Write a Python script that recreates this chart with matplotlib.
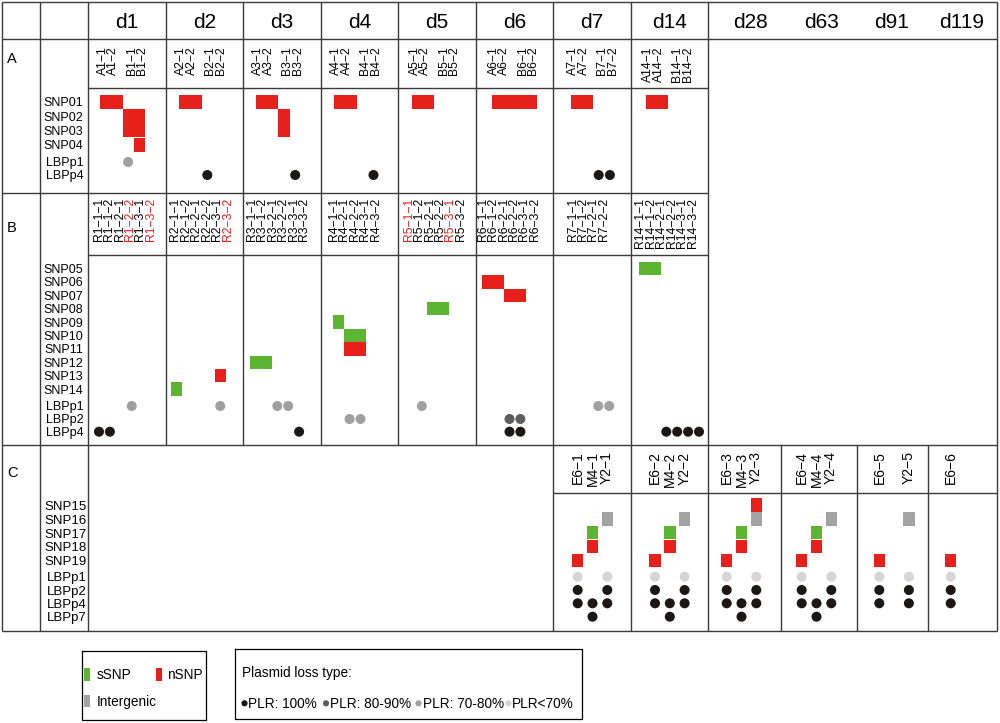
import matplotlib
matplotlib.use('Agg')
import matplotlib.pyplot as plt

plt.rcParams['font.family'] = ['Liberation Sans', 'DejaVu Sans']

# ---------------- data ----------------
DAYS = ['d1', 'd2', 'd3', 'd4', 'd5', 'd6', 'd7', 'd14']
LATE_DAYS = ['d28', 'd63', 'd91', 'd119']

# section A
A_ROWS = ['SNP01', 'SNP02', 'SNP03', 'SNP04', 'LBPp1', 'LBPp4']
A_SAMPLES = [
    ['A1-1', 'A1-2', 'B1-1', 'B1-2'],
    ['A2-1', 'A2-2', 'B2-1', 'B2-2'],
    ['A3-1', 'A3-2', 'B3-1', 'B3-2'],
    ['A4-1', 'A4-2', 'B4-1', 'B4-2'],
    ['A5-1', 'A5-2', 'B5-1', 'B5-2'],
    ['A6-1', 'A6-2', 'B6-1', 'B6-2'],
    ['A7-1', 'A7-2', 'B7-1', 'B7-2'],
    ['A14-1', 'A14-2', 'B14-1', 'B14-2'],
]
# (row, sample, type)  s = sSNP, n = nSNP, i = intergenic
A_SNP = [
    ('SNP01', 'A1-1', 'n'), ('SNP01', 'A1-2', 'n'),
    ('SNP02', 'B1-1', 'n'), ('SNP02', 'B1-2', 'n'),
    ('SNP03', 'B1-1', 'n'), ('SNP03', 'B1-2', 'n'),
    ('SNP04', 'B1-2', 'n'),
    ('SNP01', 'A2-1', 'n'), ('SNP01', 'A2-2', 'n'),
    ('SNP01', 'A3-1', 'n'), ('SNP01', 'A3-2', 'n'),
    ('SNP02', 'B3-1', 'n'), ('SNP03', 'B3-1', 'n'),
    ('SNP01', 'A4-1', 'n'), ('SNP01', 'A4-2', 'n'),
    ('SNP01', 'A5-1', 'n'), ('SNP01', 'A5-2', 'n'),
    ('SNP01', 'A6-1', 'n'), ('SNP01', 'A6-2', 'n'),
    ('SNP01', 'B6-1', 'n'), ('SNP01', 'B6-2', 'n'),
    ('SNP01', 'A7-1', 'n'), ('SNP01', 'A7-2', 'n'),
    ('SNP01', 'A14-1', 'n'), ('SNP01', 'A14-2', 'n'),
]
# (plasmid, sample, PLR class)
A_LOSS = [
    ('LBPp1', 'B1-1', '70-80'),
    ('LBPp4', 'B2-1', '100'),
    ('LBPp4', 'B3-2', '100'),
    ('LBPp4', 'B4-2', '100'),
    ('LBPp4', 'B7-1', '100'), ('LBPp4', 'B7-2', '100'),
]

# section B
B_ROWS = ['SNP05', 'SNP06', 'SNP07', 'SNP08', 'SNP09', 'SNP10', 'SNP11',
          'SNP12', 'SNP13', 'SNP14', 'LBPp1', 'LBPp2', 'LBPp4']
B_SAMPLES = [
    ['R1-1-1', 'R1-1-2', 'R1-2-1', 'R1-2-2', 'R1-3-1', 'R1-3-2'],
    ['R2-1-1', 'R2-1-2', 'R2-2-1', 'R2-2-2', 'R2-3-1', 'R2-3-2'],
    ['R3-1-1', 'R3-1-2', 'R3-2-1', 'R3-2-2', 'R3-3-1', 'R3-3-2'],
    ['R4-1-1', 'R4-2-1', 'R4-2-2', 'R4-3-1', 'R4-3-2'],
    ['R5-1-1', 'R5-1-2', 'R5-2-1', 'R5-2-2', 'R5-3-1', 'R5-3-2'],
    ['R6-1-1', 'R6-1-2', 'R6-2-1', 'R6-2-2', 'R6-3-1', 'R6-3-2'],
    ['R7-1-1', 'R7-1-2', 'R7-2-1', 'R7-2-2'],
    ['R14-1-1', 'R14-1-2', 'R14-2-1', 'R14-2-2', 'R14-3-1', 'R14-3-2'],
]
B_RED = ['R1-2-2', 'R1-3-2', 'R2-3-2', 'R5-1-1', 'R5-3-1']
B_SNP = [
    ('SNP14', 'R2-1-1', 's'), ('SNP13', 'R2-3-1', 'n'),
    ('SNP12', 'R3-1-1', 's'), ('SNP12', 'R3-1-2', 's'),
    ('SNP09', 'R4-1-1', 's'),
    ('SNP10', 'R4-2-1', 's'), ('SNP10', 'R4-2-2', 's'),
    ('SNP11', 'R4-2-1', 'n'), ('SNP11', 'R4-2-2', 'n'),
    ('SNP08', 'R5-2-1', 's'), ('SNP08', 'R5-2-2', 's'),
    ('SNP06', 'R6-1-1', 'n'), ('SNP06', 'R6-1-2', 'n'),
    ('SNP07', 'R6-2-1', 'n'), ('SNP07', 'R6-2-2', 'n'),
    ('SNP05', 'R14-1-1', 's'), ('SNP05', 'R14-1-2', 's'),
]
B_LOSS = [
    ('LBPp1', 'R1-2-2', '70-80'),
    ('LBPp4', 'R1-1-1', '100'), ('LBPp4', 'R1-1-2', '100'),
    ('LBPp1', 'R2-3-1', '70-80'),
    ('LBPp1', 'R3-2-1', '70-80'), ('LBPp1', 'R3-2-2', '70-80'),
    ('LBPp4', 'R3-3-1', '100'),
    ('LBPp2', 'R4-2-1', '70-80'), ('LBPp2', 'R4-2-2', '70-80'),
    ('LBPp1', 'R5-1-2', '70-80'),
    ('LBPp2', 'R6-2-1', '80-90'), ('LBPp2', 'R6-2-2', '80-90'),
    ('LBPp4', 'R6-2-1', '100'), ('LBPp4', 'R6-2-2', '100'),
    ('LBPp1', 'R7-2-1', '70-80'), ('LBPp1', 'R7-2-2', '70-80'),
    ('LBPp4', 'R14-2-1', '100'), ('LBPp4', 'R14-2-2', '100'),
    ('LBPp4', 'R14-3-1', '100'), ('LBPp4', 'R14-3-2', '100'),
]

# section C (None = empty slot)
C_ROWS = ['SNP15', 'SNP16', 'SNP17', 'SNP18', 'SNP19',
          'LBPp1', 'LBPp2', 'LBPp4', 'LBPp7']
C_SAMPLES = [
    ['E6-1', 'M4-1', 'Y2-1'],
    ['E6-2', 'M4-2', 'Y2-2'],
    ['E6-3', 'M4-3', 'Y2-3'],
    ['E6-4', 'M4-4', 'Y2-4'],
    ['E6-5', None, 'Y2-5'],
    ['E6-6'],
]
C_SNP = [
    ('SNP16', 'Y2-1', 'i'), ('SNP17', 'M4-1', 's'), ('SNP18', 'M4-1', 'n'), ('SNP19', 'E6-1', 'n'),
    ('SNP16', 'Y2-2', 'i'), ('SNP17', 'M4-2', 's'), ('SNP18', 'M4-2', 'n'), ('SNP19', 'E6-2', 'n'),
    ('SNP15', 'Y2-3', 'n'), ('SNP16', 'Y2-3', 'i'), ('SNP17', 'M4-3', 's'),
    ('SNP18', 'M4-3', 'n'), ('SNP19', 'E6-3', 'n'),
    ('SNP16', 'Y2-4', 'i'), ('SNP17', 'M4-4', 's'), ('SNP18', 'M4-4', 'n'), ('SNP19', 'E6-4', 'n'),
    ('SNP16', 'Y2-5', 'i'), ('SNP19', 'E6-5', 'n'),
    ('SNP19', 'E6-6', 'n'),
]
C_LOSS = [
    ('LBPp1', 'E6-1', '<70'), ('LBPp1', 'Y2-1', '<70'),
    ('LBPp2', 'E6-1', '100'), ('LBPp2', 'Y2-1', '100'),
    ('LBPp4', 'E6-1', '100'), ('LBPp4', 'M4-1', '100'), ('LBPp4', 'Y2-1', '100'),
    ('LBPp7', 'M4-1', '100'),
    ('LBPp1', 'E6-2', '<70'), ('LBPp1', 'Y2-2', '<70'),
    ('LBPp2', 'E6-2', '100'), ('LBPp2', 'Y2-2', '100'),
    ('LBPp4', 'E6-2', '100'), ('LBPp4', 'M4-2', '100'), ('LBPp4', 'Y2-2', '100'),
    ('LBPp7', 'M4-2', '100'),
    ('LBPp1', 'E6-3', '<70'), ('LBPp1', 'Y2-3', '<70'),
    ('LBPp2', 'E6-3', '100'), ('LBPp2', 'Y2-3', '100'),
    ('LBPp4', 'E6-3', '100'), ('LBPp4', 'M4-3', '100'), ('LBPp4', 'Y2-3', '100'),
    ('LBPp7', 'M4-3', '100'),
    ('LBPp1', 'E6-4', '<70'), ('LBPp1', 'Y2-4', '<70'),
    ('LBPp2', 'E6-4', '100'), ('LBPp2', 'Y2-4', '100'),
    ('LBPp4', 'E6-4', '100'), ('LBPp4', 'M4-4', '100'), ('LBPp4', 'Y2-4', '100'),
    ('LBPp7', 'M4-4', '100'),
    ('LBPp1', 'E6-5', '<70'), ('LBPp1', 'Y2-5', '<70'),
    ('LBPp2', 'E6-5', '100'), ('LBPp2', 'Y2-5', '100'),
    ('LBPp4', 'E6-5', '100'), ('LBPp4', 'Y2-5', '100'),
    ('LBPp1', 'E6-6', '<70'), ('LBPp2', 'E6-6', '100'), ('LBPp4', 'E6-6', '100'),
]

SNP_TYPES = ['s', 'n', 'i']
SNP_NAMES = ['sSNP', 'nSNP', 'Intergenic']
SNP_COLORS = ['#5bb531', '#e8201c', '#a3a3a3']
PLR_CLASSES = ['100', '80-90', '70-80', '<70']
PLR_NAMES = ['PLR: 100%', 'PLR: 80-90%', 'PLR: 70-80%', 'PLR<70%']
PLR_COLORS = ['#1c1616', '#5e5e5e', '#a0a0a0', '#d6d6d6']

# ---------------- layout (pixels) ----------------
DAY_EDGES = [88, 165.7, 242.7, 320.7, 398, 476, 553.3, 631, 708.3]
C_EDGES = [553.3, 631, 708.3, 781, 857, 928.3, 996.7]
LATE_X = [750.7, 821.3, 891.3, 961.7]

A_OFF = [17.7, 19.2, 18.9, 19.2, 19.3, 21.6, 23, 20.6]
A_LAB_OFF = [15, 16, 15.6, 16, 17, 18, 20, 17.3]
A_LAB_STEP = [0, 10, 29, 39]
A_PITCH, A_H = 11.2, 14.2
A_Y = [102, 116.2, 130.4, 144.6, 162, 175]

B_OFF = [11, 11, 12.8, 18, 12.9, 11.7, 23.2, 13.5]
B_LAB_OFF = [12, 11, 10.6, 14.3, 12, 8, 20, 10.7]
B_PITCH, B_LAB_PITCH, B_H = 10.9, 9.9, 13.4
B_Y = [268.5 + 13.4 * i for i in range(10)] + [406, 419, 431.7]

C_OFF = [24.4, 24, 18.4, 20.7, 22.3, 22.4]
C_PITCH, C_W, C_H = 14.8, 11.5, 13.4
C_Y = [505 + 13.9 * i for i in range(5)] + [576.7, 590, 603.3, 616.7]

LINE = '#3a3a3a'
RED = '#e8201c'
LAB_SIZE = 8.8
LEG_SIZE = 9.8

fig = plt.figure(figsize=(10, 7.23), dpi=100)
ax = fig.add_axes([0, 0, 1, 1])
ax.set_xlim(0, 1000)
ax.set_ylim(723, 0)
ax.axis('off')
renderer = fig.canvas.get_renderer()


def put(x, y, s, size, ha='left', color='black'):
    # centre the capital height on y
    cap = size / 72 * 100 * 0.716
    ax.text(x, y + cap / 2, s, fontsize=size, ha=ha, va='baseline', color=color)


def line_step(size):
    # distance between two lines of text at linespacing 1 (pixels)
    t1 = ax.text(0, 0, 'R1', fontsize=size, linespacing=1.0)
    t2 = ax.text(0, 0, 'R1\nR1', fontsize=size, linespacing=1.0)
    step = (t2.get_window_extent(renderer).height
            - t1.get_window_extent(renderer).height)
    t1.remove()
    t2.remove()
    return step


def column_labels(xs, top, names, size, colors=None):
    # one rotated multi-line text per colour; other entries left blank
    pitch_px = xs[1] - xs[0] if len(xs) > 1 else 10
    spacing = pitch_px / line_step(size)
    if colors is None:
        colors = ['black'] * len(names)
    xc = (xs[0] + xs[-1]) / 2
    for col in dict.fromkeys(colors):
        lines = [nm.replace('-', '\u2212') if (nm is not None and c == col) else ''
                 for nm, c in zip(names, colors)]
        ax.text(xc, top, '\n'.join(lines), rotation=90, fontsize=size,
                ha='center', va='top', color=col, linespacing=spacing,
                multialignment='right')


def locate(groups, lefts, offs, pitch, name):
    for g, grp in enumerate(groups):
        if name in grp:
            return lefts[g] + offs[g] + grp.index(name) * pitch
    raise KeyError(name)


def draw_section(groups, lefts, offs, pitch, w, h, rows, ys, snps, losses):
    xs, bs, cs = [], [], []
    for row, smp, t in snps:
        xs.append(locate(groups, lefts, offs, pitch, smp))
        bs.append(ys[rows.index(row)] - h / 2)
        cs.append(SNP_COLORS[SNP_TYPES.index(t)])
    ax.bar(xs, h, width=w, bottom=bs, color=cs, linewidth=0)
    dx, dy, dc = [], [], []
    for row, smp, p in losses:
        dx.append(locate(groups, lefts, offs, pitch, smp))
        dy.append(ys[rows.index(row)])
        dc.append(PLR_COLORS[PLR_CLASSES.index(p)])
    ax.scatter(dx, dy, s=52, c=dc, linewidths=0, zorder=3)


# ---- grid lines ----
lw = 1.0
ax.vlines([2, 40, 88, 553.3, 631, 708.3, 996.7], 2, 631, color=LINE, lw=lw)
ax.vlines(DAY_EDGES[1:6], 2, 445, color=LINE, lw=lw)
ax.vlines(C_EDGES[3:6], 445, 631, color=LINE, lw=lw)
ax.hlines([2, 38.5, 445, 631], 2, 996.7, color=LINE, lw=lw)
ax.hlines(192.5, 2, 708.3, color=LINE, lw=lw)
ax.hlines([88, 255], 88, 708.3, color=LINE, lw=lw)
ax.hlines(492.5, 553.3, 996.7, color=LINE, lw=lw)

# ---- header ----
for i, d in enumerate(DAYS):
    ax.text((DAY_EDGES[i] + DAY_EDGES[i + 1]) / 2, 27.5, d, fontsize=15,
            ha='center', va='baseline')
for x, d in zip(LATE_X, LATE_DAYS):
    ax.text(x, 27.5, d, fontsize=15, ha='center', va='baseline')

for letter, y in zip(['A', 'B', 'C'], [58, 227, 472]):
    put(7, y, letter, 10.5)

# ---- row labels ----
for r, y in zip(A_ROWS, A_Y):
    put(83.5, y, r, 9, ha='right')
for r, y in zip(B_ROWS, B_Y):
    put(83.5, y, r, 9, ha='right')
for r, y in zip(C_ROWS, C_Y):
    put(86.5, y, r, 9.5, ha='right')

# ---- sample labels ----
for g, grp in enumerate(A_SAMPLES):
    xs = [DAY_EDGES[g] + A_LAB_OFF[g] + st for st in A_LAB_STEP]
    column_labels(xs[:2], 46.5, grp[:2], LAB_SIZE)
    column_labels(xs[2:], 46.5, grp[2:], LAB_SIZE)
for g, grp in enumerate(B_SAMPLES):
    xs = [DAY_EDGES[g] + B_LAB_OFF[g] + k * B_LAB_PITCH for k in range(len(grp))]
    cols = [RED if s in B_RED else 'black' for s in grp]
    column_labels(xs, 198, grp, LAB_SIZE, cols)
for g, grp in enumerate(C_SAMPLES):
    xs = [C_EDGES[g] + C_OFF[g] + k * C_PITCH for k in range(len(grp))]
    column_labels(xs, 451.5, grp, 10)

# ---- marks ----
draw_section(A_SAMPLES, DAY_EDGES, A_OFF, A_PITCH, A_PITCH, A_H, A_ROWS, A_Y, A_SNP, A_LOSS)
draw_section(B_SAMPLES, DAY_EDGES, B_OFF, B_PITCH, B_PITCH, B_H, B_ROWS, B_Y, B_SNP, B_LOSS)
draw_section(C_SAMPLES, C_EDGES, C_OFF, C_PITCH, C_W, C_H, C_ROWS, C_Y, C_SNP, C_LOSS)

# ---- legends ----
ax.plot([82, 205.7, 205.7, 82, 82], [651, 651, 720, 720, 651], color='black', lw=0.9)
ax.plot([235, 581.7, 581.7, 235, 235], [649.3, 649.3, 719, 719, 649.3], color='black', lw=0.9)

sq_x = [87, 159, 87]
sq_y = [674.3, 674.3, 700.8]
txt_x = [96.5, 167, 96.5]
ax.bar(sq_x, 12.5, width=6, bottom=[y - 6.25 for y in sq_y], color=SNP_COLORS, linewidth=0)
for x, y, s in zip(txt_x, sq_y, SNP_NAMES):
    put(x, y, s, LEG_SIZE)

put(242.5, 671.7, 'Plasmid loss type:', LEG_SIZE)
dot_x = [244.5, 326, 418.5, 508.5]
lab_x = [247.5, 330.5, 423, 512]
ax.scatter(dot_x, [703.3] * 4, s=20, c=PLR_COLORS, linewidths=0)
for x, s in zip(lab_x, PLR_NAMES):
    put(x, 703.3, s, LEG_SIZE)

fig.savefig('out.png', dpi=100)
